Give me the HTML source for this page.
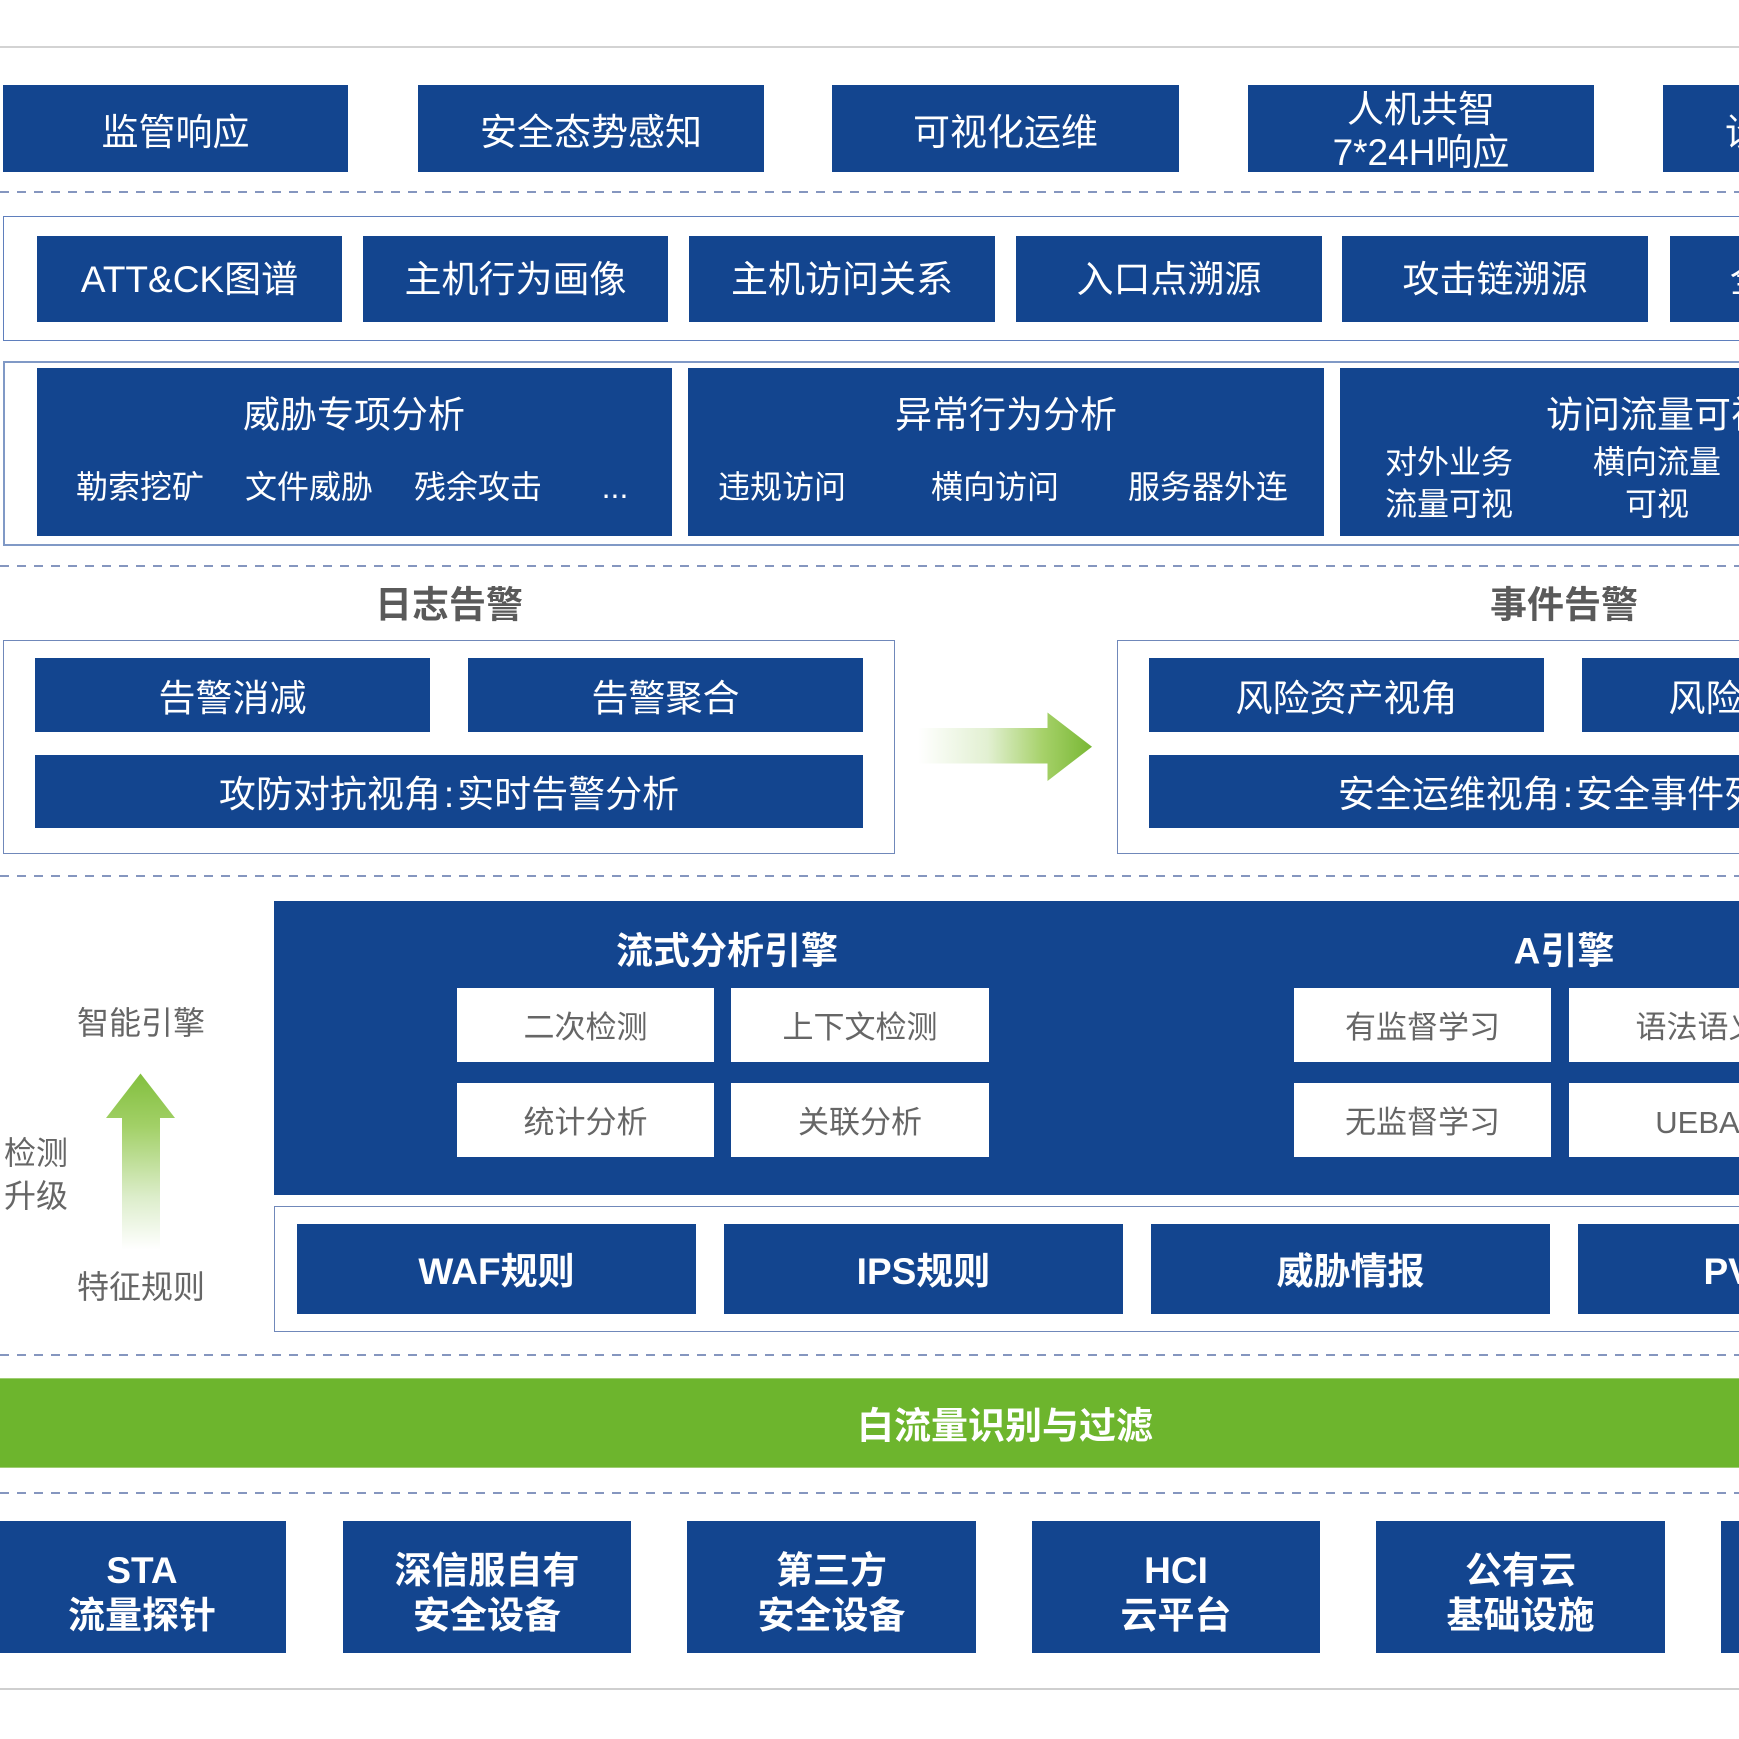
<!DOCTYPE html>
<html>
<head>
<meta charset="utf-8">
<style>
  html,body{margin:0;padding:0;background:#fff;}
  #c{position:relative;width:1739px;height:1739px;overflow:hidden;background:#fff;
     font-family:"Liberation Sans","Noto Sans CJK SC",sans-serif;}
  .b{position:absolute;background:#13458f;color:#fff;display:flex;align-items:center;justify-content:center;
     text-align:center;font-size:37px;white-space:nowrap;line-height:43px;box-sizing:border-box;}
  .bb{font-weight:700;}
  .w{position:absolute;background:#fff;color:#666;display:flex;align-items:center;justify-content:center;
     font-size:31px;white-space:nowrap;line-height:1;box-sizing:border-box;padding-top:4px;}
  .o{position:absolute;border:1.5px solid #7088ba;box-sizing:border-box;}
  .d{position:absolute;left:0;width:1739px;height:2px;
     background:repeating-linear-gradient(to right,#8596bf 0 9px,transparent 9px 17px);}
  .g{position:absolute;left:0;width:1739px;height:2px;background:#d3d3d3;}
  .t{position:absolute;transform:translate(-50%,-50%);white-space:nowrap;line-height:1;}
  .wt{color:#fff;font-size:37px;}
  .st{color:#fff;font-size:32px;}
  .gt{color:#666;font-size:32px;}
  .ht{color:#5a5a5a;font-size:37px;font-weight:700;}
  .r1{padding-top:8px;}
  .al{padding-top:6px;}
  .rl{padding-top:4px;}
</style>
</head>
<body>
<div id="c">
  <!-- top gray line -->
  <div class="g" style="top:46px;"></div>

  <!-- Row 1 -->
  <div class="b r1" style="left:3px;top:85px;width:345px;height:87px;">监管响应</div>
  <div class="b r1" style="left:418px;top:85px;width:346px;height:87px;">安全态势感知</div>
  <div class="b r1" style="left:832px;top:85px;width:347px;height:87px;">可视化运维</div>
  <div class="b" style="left:1248px;top:85px;width:346px;height:87px;padding-top:4px;">人机共智<br>7*24H响应</div>
  <div class="b r1" style="left:1663px;top:85px;width:346px;height:87px;">设备联动处置</div>

  <div class="d" style="top:191px;"></div>

  <!-- Row 2 -->
  <div class="o" style="left:3px;top:216px;width:1800px;height:125px;border-color:#5f7fbd;"></div>
  <div class="b" style="left:37px;top:236px;width:305px;height:86px;">ATT&amp;CK图谱</div>
  <div class="b" style="left:363px;top:236px;width:305px;height:86px;">主机行为画像</div>
  <div class="b" style="left:689px;top:236px;width:306px;height:86px;">主机访问关系</div>
  <div class="b" style="left:1016px;top:236px;width:306px;height:86px;">入口点溯源</div>
  <div class="b" style="left:1342px;top:236px;width:306px;height:86px;">攻击链溯源</div>
  <div class="b" style="left:1670px;top:236px;width:305px;height:86px;">全流量回溯</div>

  <!-- Row 3 -->
  <div class="o" style="left:3px;top:361px;width:1800px;height:185px;border:2px solid #8099c6;"></div>
  <div class="b" style="left:37px;top:368px;width:635px;height:168px;"></div>
  <div class="b" style="left:688px;top:368px;width:636px;height:168px;"></div>
  <div class="b" style="left:1340px;top:368px;width:636px;height:168px;"></div>
  <div class="t wt" style="left:354px;top:415px;">威胁专项分析</div>
  <div class="t wt" style="left:1006px;top:415px;">异常行为分析</div>
  <div class="t wt" style="left:1657px;top:415px;">访问流量可视</div>
  <div class="t st" style="left:140px;top:487px;">勒索挖矿</div>
  <div class="t st" style="left:309px;top:487px;">文件威胁</div>
  <div class="t st" style="left:478px;top:487px;">残余攻击</div>
  <div class="t st" style="left:615px;top:487px;">...</div>
  <div class="t st" style="left:782px;top:487px;">违规访问</div>
  <div class="t st" style="left:995px;top:487px;">横向访问</div>
  <div class="t st" style="left:1208px;top:487px;">服务器外连</div>
  <div class="t st" style="left:1449px;top:483px;line-height:42px;text-align:center;">对外业务<br>流量可视</div>
  <div class="t st" style="left:1657px;top:483px;line-height:42px;text-align:center;">横向流量<br>可视</div>

  <div class="d" style="top:565px;"></div>

  <!-- Alerts -->
  <div class="t ht" style="left:449px;top:605px;">日志告警</div>
  <div class="t ht" style="left:1564px;top:605px;">事件告警</div>

  <div class="o" style="left:3px;top:640px;width:892px;height:214px;"></div>
  <div class="b al" style="left:35px;top:658px;width:395px;height:74px;">告警消减</div>
  <div class="b al" style="left:468px;top:658px;width:395px;height:74px;">告警聚合</div>
  <div class="b al" style="left:35px;top:755px;width:828px;height:73px;">攻防对抗视角<span style="margin:0 3px;">:</span>实时告警分析</div>

  <div class="o" style="left:1117px;top:640px;width:800px;height:214px;"></div>
  <div class="b al" style="left:1149px;top:658px;width:395px;height:74px;">风险资产视角</div>
  <div class="b al" style="left:1582px;top:658px;width:395px;height:74px;">风险事件视角</div>
  <div class="b al" style="left:1149px;top:755px;width:838px;height:73px;">安全运维视角<span style="margin:0 3px;">:</span>安全事件列表</div>

  <!-- arrows -->
  <svg style="position:absolute;left:0;top:0;" width="1739" height="1739" viewBox="0 0 1739 1739">
    <defs>
      <linearGradient id="ga" gradientUnits="userSpaceOnUse" x1="918" y1="0" x2="1092" y2="0">
        <stop offset="0" stop-color="#ffffff"/>
        <stop offset="0.4" stop-color="#e2f0d2"/>
        <stop offset="0.72" stop-color="#a6d169"/>
        <stop offset="1" stop-color="#78b734"/>
      </linearGradient>
      <linearGradient id="gb" gradientUnits="userSpaceOnUse" x1="0" y1="1073" x2="0" y2="1250">
        <stop offset="0" stop-color="#82bf3e"/>
        <stop offset="0.3" stop-color="#a2d067"/>
        <stop offset="0.7" stop-color="#dcedca"/>
        <stop offset="1" stop-color="#ffffff"/>
      </linearGradient>
    </defs>
    <polygon fill="url(#ga)" points="918,728 1047.5,728 1047.5,712.5 1092,746.7 1047.5,781 1047.5,763.5 918,763.5"/>
    <polygon fill="url(#gb)" points="122,1250 122,1118 106,1118 140.5,1073.5 175,1118 160,1118 160,1250"/>
  </svg>

  <div class="d" style="top:875px;"></div>

  <!-- Engine -->
  <div class="b" style="left:274px;top:901px;width:1600px;height:294px;"></div>
  <div class="t wt" style="left:727px;top:951px;font-weight:700;">流式分析引擎</div>
  <div class="t wt" style="left:1564px;top:951px;font-weight:700;">A引擎</div>

  <div class="w" style="left:457px;top:988px;width:257px;height:74px;">二次检测</div>
  <div class="w" style="left:731px;top:988px;width:258px;height:74px;">上下文检测</div>
  <div class="w" style="left:1294px;top:988px;width:257px;height:74px;">有监督学习</div>
  <div class="w" style="left:1569px;top:988px;width:257px;height:74px;">语法语义</div>
  <div class="w" style="left:457px;top:1083px;width:257px;height:74px;">统计分析</div>
  <div class="w" style="left:731px;top:1083px;width:258px;height:74px;">关联分析</div>
  <div class="w" style="left:1294px;top:1083px;width:257px;height:74px;">无监督学习</div>
  <div class="w" style="left:1569px;top:1083px;width:257px;height:74px;">UEBA</div>

  <!-- left labels -->
  <div class="t gt" style="left:141px;top:1023px;">智能引擎</div>
  <div class="gt" style="position:absolute;left:4px;top:1132px;line-height:43px;white-space:nowrap;">检测<br>升级</div>
  <div class="t gt" style="left:141px;top:1287px;">特征规则</div>

  <!-- Rules -->
  <div class="o" style="left:274px;top:1206px;width:1600px;height:126px;"></div>
  <div class="b bb rl" style="left:297px;top:1224px;width:399px;height:90px;">WAF规则</div>
  <div class="b bb rl" style="left:724px;top:1224px;width:399px;height:90px;">IPS规则</div>
  <div class="b bb rl" style="left:1151px;top:1224px;width:399px;height:90px;">威胁情报</div>
  <div class="b bb rl" style="left:1578px;top:1224px;width:399px;height:90px;">PVS规则</div>

  <div class="d" style="top:1354px;"></div>

  <!-- Green bar -->
  <div style="position:absolute;left:0;top:1378px;width:1739px;height:90px;background:#6db52d;border-top:1px solid #9fcd73;border-bottom:1px solid #9fcd73;box-sizing:border-box;"></div>
  <div class="t wt" style="left:1005px;top:1426px;font-weight:700;">白流量识别与过滤</div>

  <div class="d" style="top:1492px;"></div>

  <!-- Bottom sources -->
  <div class="b bb" style="left:-2px;top:1521px;width:288px;height:132px;line-height:45px;padding-top:12px;">STA<br>流量探针</div>
  <div class="b bb" style="left:343px;top:1521px;width:288px;height:132px;line-height:45px;padding-top:12px;">深信服自有<br>安全设备</div>
  <div class="b bb" style="left:687px;top:1521px;width:289px;height:132px;line-height:45px;padding-top:12px;">第三方<br>安全设备</div>
  <div class="b bb" style="left:1032px;top:1521px;width:288px;height:132px;line-height:45px;padding-top:12px;">HCI<br>云平台</div>
  <div class="b bb" style="left:1376px;top:1521px;width:289px;height:132px;line-height:45px;padding-top:12px;">公有云<br>基础设施</div>
  <div class="b bb" style="left:1721px;top:1521px;width:288px;height:132px;line-height:45px;padding-top:12px;">私有云<br>平台</div>

  <!-- bottom gray line -->
  <div class="g" style="top:1688px;background:#cfcfcf;"></div>
</div>
</body>
</html>
